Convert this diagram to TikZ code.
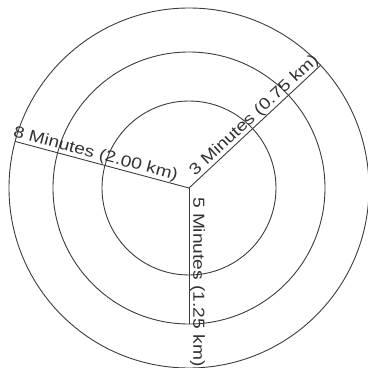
\documentclass[tikz,border=0pt]{standalone}
\usepackage{fontspec}
\setmainfont{Liberation Sans}
\usetikzlibrary{positioning}
\definecolor{ink}{RGB}{50,50,50}
\definecolor{rim}{RGB}{60,60,60}
\tikzset{
  every picture/.style={x=1pt, y=1pt, color=rim, line width=0.9pt},
  ring/.style={draw=rim, circle, inner sep=0pt, outer sep=0pt, minimum size=#1},
  spoke/.style={draw=rim, line width=0.9pt},
  dist/.style={font=\fontsize{16}{18}\selectfont, text=ink, inner sep=0.5pt, anchor=south, xscale=1.2},
}

\begin{document}
\begin{tikzpicture}
  \useasboundingbox (0,0) rectangle (368,368);
  % walking distance rings round one centre
  \coordinate (c) at (189,180);
  \node[ring=174] (inner) at (c) {};
  \node[ring=272] (middle) at (c) {};
  \node[ring=360] (outer) at (c) {};
  \draw[spoke] (c) -- (outer.165) node[pos=0.55, rotate=-15, dist] {8 Minutes (2.00 km)};
  \draw[spoke] (c) -- (outer.43) node[pos=0.54, rotate=43, dist] {3 Minutes (0.75 km)};
  \draw[spoke] (c) -- (middle.270) node[pos=0.69, rotate=-90, dist] {5 Minutes (1.25 km)};
\end{tikzpicture}
\end{document}
